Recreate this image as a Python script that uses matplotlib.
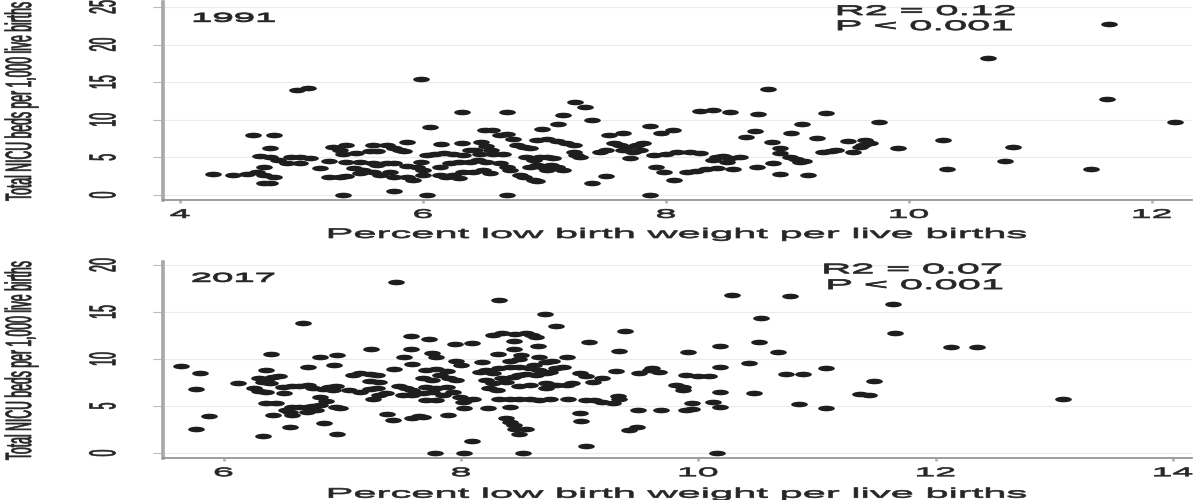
import numpy as np
import matplotlib
matplotlib.use("Agg")
import matplotlib.pyplot as plt
from matplotlib import patheffects
from matplotlib.path import Path
from matplotlib.transforms import Affine2D

# 1991 panel
x_1991 = [4.96, 5.05, 4.60, 4.77, 4.74, 4.66, 4.74, 4.81, 4.91, 4.99, 5.07, 4.88, 4.99,
          4.27, 4.44, 4.55, 4.63, 4.69, 4.69, 4.77, 4.69, 4.74, 5.15, 5.23, 5.32, 5.37,
          5.34, 5.26, 5.37, 5.32, 5.34, 5.45, 5.56, 5.62, 5.23, 5.37, 5.48, 5.59, 5.70,
          5.59, 5.70, 5.76, 5.81, 5.87, 5.84, 5.43, 5.51, 5.48, 5.59, 5.65, 5.73, 5.76,
          5.87, 5.92, 5.62, 5.76, 5.87, 5.95, 5.76,
          5.98, 6.32, 6.69, 7.25, 7.33, 7.15, 7.11, 7.39, 6.06, 6.51, 6.57, 6.98, 6.63,
          6.69, 6.74, 6.15, 6.32, 6.48, 6.52, 6.56, 6.43, 6.77, 6.83, 6.88, 6.94, 7.02,
          7.10, 7.18, 7.24, 5.98, 6.03, 6.10, 6.17, 6.25, 6.33, 6.39, 6.47, 6.58, 6.66,
          6.00, 6.00, 6.14, 6.22, 6.30, 6.39, 6.45, 6.52, 6.14, 6.19, 6.25, 6.33, 6.41,
          6.49, 6.55, 6.30, 6.63, 6.69, 6.72, 6.80, 6.83, 6.91, 6.94, 6.85, 6.91, 6.96,
          7.02, 7.07, 6.88, 6.94, 6.99, 7.05, 7.10, 7.15, 7.02, 7.24, 7.29, 7.26, 7.39,
          7.51, 6.03, 6.69, 7.53, 7.65, 7.87, 7.96, 8.06, 7.57, 7.62, 7.68, 7.76, 7.81,
          7.65, 7.73, 7.79, 7.46, 7.51, 7.70, 7.90, 8.00, 8.09, 7.92, 7.98, 8.07, 7.87,
          8.84, 8.28, 8.39, 8.53, 8.76, 9.32, 9.75, 9.12, 8.73, 8.66, 9.03, 8.87, 9.24,
          9.50, 9.64, 9.68, 9.60, 9.91, 8.20, 8.28, 8.94, 8.94, 9.29, 9.36, 9.40, 9.54,
          8.42, 8.47, 8.53, 8.61, 8.39, 8.50, 9.02, 9.07, 9.14, 9.10, 8.17, 8.25, 8.33,
          8.42, 8.55, 8.75, 8.88, 8.94, 9.17,
          11.65, 10.65, 11.63, 12.19, 9.62, 10.28, 10.86, 10.79, 10.31, 11.50]
y_1991 = [14.0, 14.2, 8.0, 8.0, 6.2, 5.2, 5.0, 4.7, 5.1, 5.1, 4.9, 4.2, 4.2,
          2.8, 2.6, 2.8, 3.1, 3.76, 2.66, 2.43, 1.64, 1.64, 3.55, 2.43, 2.43, 2.5,
          0.05, 6.4, 6.6, 6.0, 5.45, 5.6, 5.85, 5.85, 4.56, 4.43, 4.43, 4.3, 4.3,
          6.65, 6.65, 6.2, 6.0, 7.1, 5.85, 3.55, 3.3, 2.9, 3.1, 2.66, 3.1, 2.4,
          2.4, 2.0, 4.0, 4.2, 3.85, 3.7, 0.57,
          15.4, 11.0, 11.0, 12.3, 11.7, 10.6, 9.5, 9.97, 9.1, 8.64, 8.64, 8.8, 8.0,
          8.1, 7.5, 6.8, 6.95, 7.1, 6.5, 6.0, 6.0, 6.65, 6.4, 6.2, 7.3, 7.4,
          7.2, 6.9, 6.65, 4.43, 5.3, 5.5, 5.6, 5.45, 5.3, 6.0, 5.5, 5.45, 5.5,
          3.3, 2.66, 3.76, 4.2, 4.43, 4.43, 4.65, 4.43, 2.66, 2.43, 2.66, 3.1, 3.1,
          3.3, 2.9, 2.2, 4.2, 3.76, 3.3, 2.66, 2.43, 2.0, 1.86, 5.1, 4.65, 5.1,
          5.1, 4.9, 3.76, 4.0, 3.76, 4.0, 3.7, 3.3, 3.3, 5.76, 5.1, 5.3, 1.64,
          2.53, 0.0, 0.0, 8.0, 8.3, 9.2, 8.2, 8.64, 6.95, 6.65, 6.4, 6.65, 6.9,
          6.0, 5.76, 6.0, 5.76, 6.0, 4.9, 5.3, 5.5, 5.76, 3.7, 3.0, 2.0, 0.0,
          14.1, 11.1, 11.3, 11.0, 10.8, 10.95, 9.75, 9.5, 8.55, 7.76, 8.2, 7.1, 7.6,
          7.2, 7.3, 6.9, 6.4, 6.3, 5.76, 5.6, 6.2, 5.6, 5.76, 5.9, 6.0, 5.76,
          5.0, 5.2, 4.9, 5.1, 4.65, 4.43, 5.0, 4.75, 4.5, 4.43, 3.1, 3.2, 3.4,
          3.55, 3.46, 3.7, 4.2, 2.8, 2.66,
          22.8, 18.2, 12.7, 9.67, 6.6, 7.3, 6.4, 4.5, 3.4, 3.4]

# 2017 panel
x_2017 = [5.64, 5.80, 5.77, 5.88, 5.77, 6.12, 6.67, 6.40, 6.36, 6.30, 6.36, 6.42, 6.47,
          6.39, 6.33, 6.26, 6.30, 6.36, 6.36, 6.44, 6.42, 6.33, 6.56, 6.51, 6.50, 6.58,
          6.64, 6.71, 6.53, 6.58, 6.64, 6.70, 6.75, 6.81, 6.78, 6.70, 6.58, 6.56, 6.71,
          6.81, 6.96, 6.93, 6.75, 6.84, 6.89, 6.95, 6.92, 6.81, 6.86, 6.95, 6.98, 6.85,
          6.96, 7.24, 7.09, 7.15, 7.23, 7.29, 7.23, 7.31, 7.06, 7.15, 7.23, 7.29, 7.31,
          7.26, 7.37, 7.38, 7.43, 7.44, 7.52, 7.58, 7.58, 7.48, 7.54, 7.59, 7.59, 7.51,
          7.59, 7.59, 7.65, 7.45,
          8.32, 8.71, 8.80, 9.38, 9.08, 9.33, 8.27, 8.35, 8.46, 8.55, 8.60, 8.63, 7.73,
          7.95, 8.09, 8.45, 8.65, 8.45, 7.76, 7.79, 8.31, 8.51, 7.96, 8.00, 8.18, 8.41,
          8.49, 8.66, 8.72, 8.89, 8.77, 8.62, 7.71, 7.79, 7.88, 7.68, 7.76, 7.82, 7.90,
          7.96, 7.71, 7.79, 7.88, 7.68, 7.76, 7.85, 7.93, 7.71, 7.79, 7.99, 8.04, 8.10,
          8.02, 8.03, 8.23, 7.89, 7.68, 8.41, 8.16, 8.21, 8.27, 8.32, 8.41, 8.49, 8.58,
          8.66, 8.75, 8.80, 8.86, 8.21, 8.27, 8.24, 8.30, 8.35, 8.38, 8.44, 8.49, 8.55,
          8.63, 8.72, 8.32, 8.41, 8.49, 8.58, 8.66, 8.75, 8.49, 8.58, 8.72, 8.72, 8.80,
          8.89, 8.94, 8.90, 8.38, 8.41, 8.45, 8.46, 8.55, 8.49, 8.09, 7.78, 8.03, 8.52,
          9.00, 9.05, 9.11, 9.19, 9.31, 9.00, 9.01, 9.05, 9.12, 9.19, 9.28, 9.33, 9.32,
          9.05, 9.49, 9.69, 9.42, 9.48, 9.50, 9.59, 9.61, 9.67,
          10.28, 10.77, 10.53, 10.51, 10.67, 10.18, 9.91, 10.43, 10.18, 10.74, 10.88,
          9.90, 10.00, 10.09, 9.81, 9.87, 9.87, 10.18, 10.47, 9.95, 10.12, 10.18, 9.90,
          9.95, 10.16, 10.85, 11.64, 11.66, 11.08, 11.48, 11.36, 11.44, 11.08, 12.13,
          12.35, 13.07]
y_2017 = [9.3, 8.55, 6.8, 3.94, 2.6, 7.5, 13.8, 10.5, 8.83, 7.95, 7.77, 8.05, 8.2,
          7.5, 7.6, 6.9, 6.6, 6.5, 5.3, 5.3, 4.04, 1.84, 2.73, 6.35, 7.05, 7.1,
          7.1, 7.2, 4.57, 4.93, 4.93, 4.86, 5.0, 5.1, 4.57, 4.4, 4.04, 4.4, 9.1,
          10.25, 10.4, 9.36, 6.9, 6.8, 7.0, 7.1, 6.7, 6.0, 5.57, 4.93, 4.75, 3.16,
          1.98, 11.06, 8.3, 8.5, 8.4, 8.3, 7.66, 7.6, 6.7, 6.5, 6.8, 6.9, 6.2,
          5.8, 6.35, 4.2, 3.5, 8.94, 10.2, 12.5, 11.06, 7.1, 6.9, 6.7, 9.5, 6.2,
          6.2, 3.7, 3.9, 18.2,
          16.3, 14.8, 13.55, 13.0, 11.8, 10.9, 12.6, 12.8, 12.7, 12.8, 12.6, 12.3, 12.1,
          11.56, 11.7, 11.95, 11.4, 11.1, 10.6, 10.2, 10.5, 10.4, 9.8, 9.36, 9.7, 9.8,
          9.97, 10.2, 9.7, 10.25, 9.8, 9.4, 8.83, 8.9, 8.75, 7.95, 7.77, 8.3, 7.95,
          7.77, 7.05, 6.9, 7.05, 6.35, 6.5, 6.17, 6.5, 5.64, 5.64, 6.0, 5.64, 5.78,
          5.46, 4.75, 4.75, 4.04, 3.86, 4.93, 8.65, 8.83, 8.48, 9.0, 9.2, 9.2, 9.0,
          8.83, 8.65, 9.0, 9.2, 7.77, 7.4, 6.9, 6.7, 7.95, 7.6, 8.1, 8.3, 8.4,
          8.3, 8.48, 5.8, 5.7, 5.8, 5.7, 5.64, 5.8, 7.1, 7.2, 7.4, 6.9, 7.2,
          7.2, 7.4, 5.7, 3.7, 3.3, 3.0, 2.6, 2.6, 2.0, 1.3, 0.0, 0.0, 0.0,
          8.48, 8.2, 7.6, 8.0, 8.7, 4.3, 3.44, 5.64, 5.64, 5.46, 5.35, 5.7, 6.06,
          0.78, 4.57, 4.57, 2.5, 2.8, 8.48, 8.83, 9.0, 8.65,
          16.8, 16.7, 14.4, 11.84, 10.7, 11.4, 10.7, 9.54, 9.1, 8.4, 8.4,
          8.3, 8.2, 8.2, 7.2, 7.05, 6.7, 6.5, 6.4, 5.3, 5.46, 4.86, 4.57,
          4.65, 0.0, 5.2, 15.9, 12.8, 9.0, 7.7, 6.3, 6.2, 4.8, 11.3,
          11.3, 5.75]

x_ticks_1991 = [4, 6, 8, 10, 12]
y_ticks_1991 = [0, 5, 10, 15, 20, 25]
x_ticks_2017 = [6, 8, 10, 12, 14]
y_ticks_2017 = [0, 5, 10, 15, 20]
stats_1991 = ["R2 = 0.12", "P < 0.001"]
stats_2017 = ["R2 = 0.07", "P < 0.001"]
x_label = "Percent low birth weight per live births"
y_label = "Total NICU beds per 1,000 live births"


class HStretch(patheffects.AbstractPathEffect):
    # the source image is squashed sideways, so widen the glyphs to match
    def __init__(self, sx=3.0, anchor="center", lw=0.5):
        super().__init__()
        self.sx = sx
        self.anchor = anchor
        self.lw = lw

    def draw_path(self, renderer, gc, tpath, affine, rgbFace=None):
        bb = tpath.get_extents(affine)
        if self.anchor == "left":
            cx = bb.x0
        elif self.anchor == "right":
            cx = bb.x1
        else:
            cx = (bb.x0 + bb.x1) / 2
        st = Affine2D().translate(-cx, 0).scale(self.sx, 1).translate(cx, 0)
        gc2 = renderer.new_gc()
        gc2.copy_properties(gc)
        gc2.set_linewidth(self.lw)
        gc2.set_foreground(rgbFace)
        renderer.draw_path(gc2, tpath, affine + st, rgbFace)
        gc2.restore()


plt.rcParams["font.family"] = ["Liberation Sans", "DejaVu Sans"]
txt_col = "#262626"
dot_col = "#1e1e1e"
oval = Affine2D().scale(1, 1 / 3).transform_path(Path.unit_circle())


def panel(ax, xs, ys, year, stats, xticks, yticks, xlim, ylim,
          year_pos, stat_pos, xlab_y):
    ax.set_xlim(*xlim)
    ax.set_ylim(*ylim)
    ax.set_axisbelow(True)
    ax.grid(axis="y", color="#ebebeb", linewidth=0.8)
    ax.scatter(xs, ys, s=145, marker=oval, color=dot_col, linewidths=0, zorder=3)

    for side in ["top", "right"]:
        ax.spines[side].set_visible(False)
    ax.spines["left"].set_color("#a8a8a8")
    ax.spines["left"].set_linewidth(2.6)
    ax.spines["bottom"].set_color("#8e8e8e")
    ax.spines["bottom"].set_linewidth(1.2)

    ax.set_xticks(xticks)
    ax.set_yticks(yticks)
    ax.tick_params(axis="x", length=2.2, width=2.0, color="#b5b5b5",
                   pad=4.2, labelsize=9, labelcolor=txt_col)
    ax.tick_params(axis="y", length=7.2, width=0.8, color="#bcbcbc",
                   pad=24.8, labelsize=9, labelcolor=txt_col)
    for lab in ax.get_xticklabels():
        lab.set_path_effects([HStretch(3.0, "center")])
    for lab in ax.get_yticklabels():
        lab.set_rotation(90)
        lab.set_va("center")
        lab.set_path_effects([HStretch(3.0, "right")])

    ax.set_xlabel(x_label, fontsize=10, color=txt_col)
    ax.xaxis.set_label_coords(0.5, xlab_y)
    ax.xaxis.label.set_path_effects([HStretch(3.0, "center")])
    ax.set_ylabel(y_label, fontsize=8.8, color=txt_col)
    ax.yaxis.set_label_coords(-0.1315, 0.5)
    ax.yaxis.label.set_path_effects([HStretch(3.0, "center")])

    ax.text(year_pos[0], year_pos[1], year, transform=ax.transAxes, fontsize=9.2,
            color=txt_col, ha="left", va="baseline",
            path_effects=[HStretch(3.0, "left", 0.7)])
    for s, (px, py) in zip(stats, stat_pos):
        ax.text(px, py, s, transform=ax.transAxes, fontsize=10, color=txt_col,
                ha="center", va="baseline",
                path_effects=[HStretch(3.0, "center", 0.6)])


fig = plt.figure(figsize=(12, 5), dpi=100)
ax1 = fig.add_axes([163 / 1200, 0.6, 1029 / 1200, 198.3 / 500])
ax2 = fig.add_axes([163 / 1200, 1 - 458.3 / 500, 1029 / 1200, 196.6 / 500])

panel(ax1, x_1991, y_1991, "1991", stats_1991, x_ticks_1991, y_ticks_1991,
      (3.86, 12.33), (-0.67, 25.7), (0.0292, 0.899),
      [(0.7415, 0.933), (0.740, 0.857)], -0.136)
panel(ax2, x_2017, y_2017, "2017", stats_2017, x_ticks_2017, y_ticks_2017,
      (5.49, 14.16), (-0.56, 20.35), (0.0282, 0.898),
      [(0.7284, 0.941), (0.7308, 0.861)], -0.1445)

fig.savefig("out.png", dpi=100)
